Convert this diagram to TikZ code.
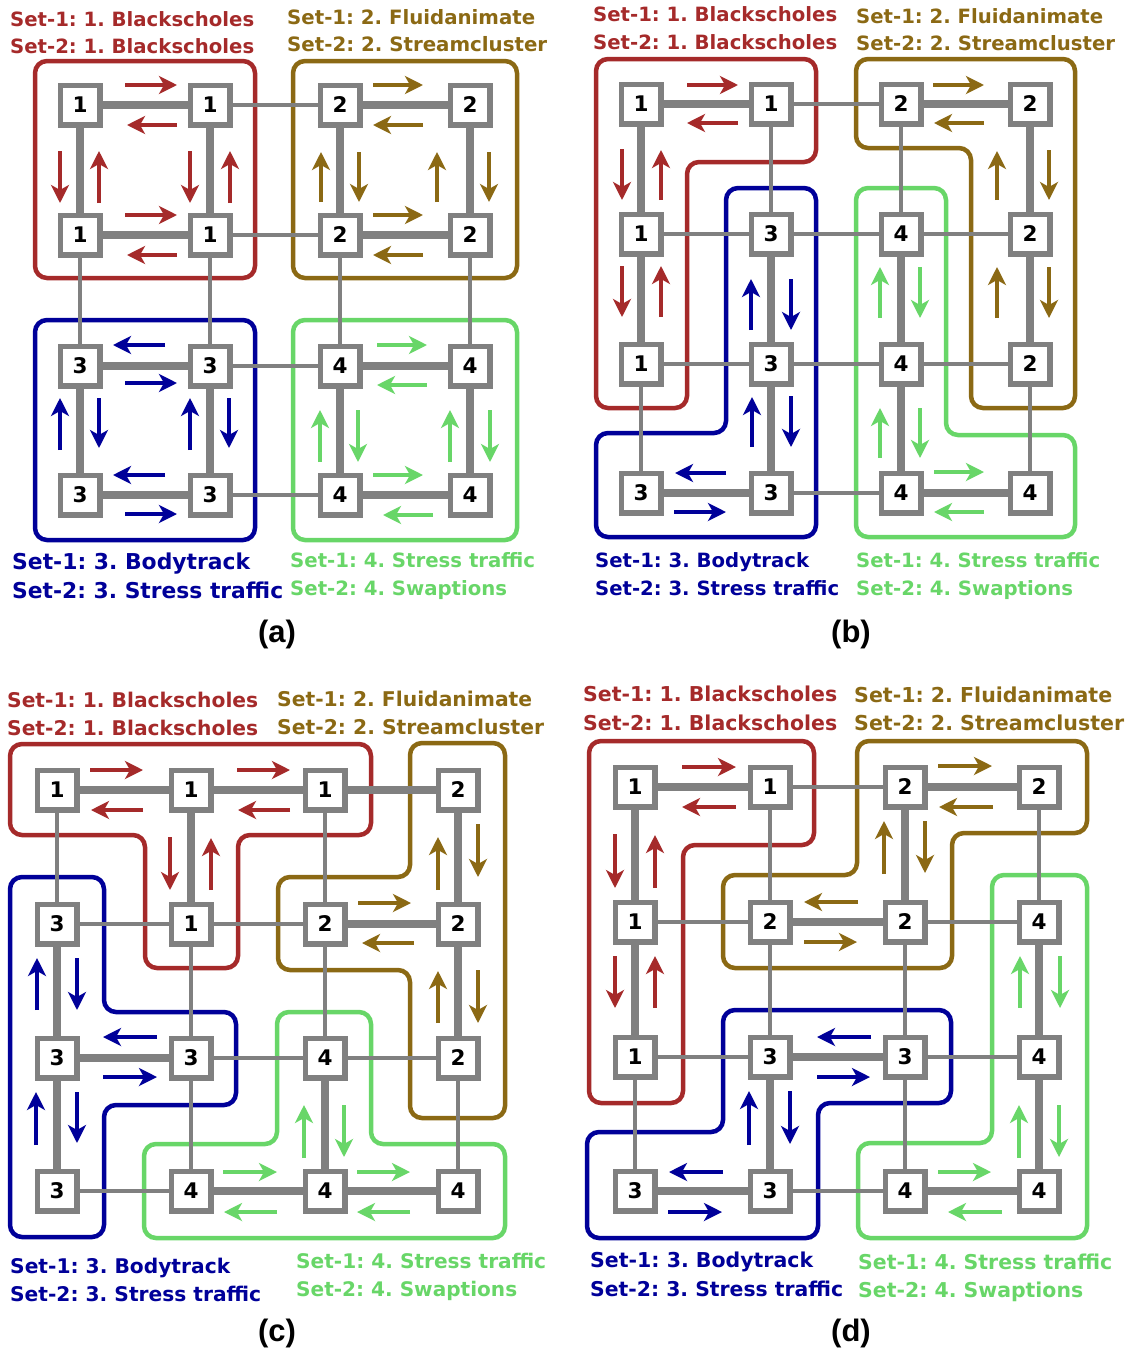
\documentclass[tikz,border=0pt]{standalone}
\usepackage{fontspec}
\setmainfont{DejaVu Sans}
\newfontfamily\capfont{Liberation Sans}
\usetikzlibrary{arrows.meta}
\frenchspacing
\pgfdeclarelayer{edges}
\pgfdeclarelayer{outlines}
\pgfsetlayers{outlines,edges,main}

\definecolor{cred}{RGB}{165,42,42}
\definecolor{cbrown}{RGB}{139,105,20}
\definecolor{cblue}{RGB}{0,0,153}
\definecolor{cgreen}{RGB}{104,214,104}
\definecolor{cgray}{RGB}{128,128,128}

\tikzset{
  nd/.style={draw=cgray, fill=white, line width=5.5pt, minimum size=39.5pt,
    inner sep=0pt, font=\bfseries\fontsize{21.5}{21.5}\selectfont},
  thinedge/.style={draw=cgray, line width=4pt},
  thickedge/.style={draw=cgray, line width=7.5pt},
  grp/.style={line width=4.5pt, rounded corners=12pt},
  flow/.style={line width=3.2pt, -{Stealth[length=18pt,width=18pt,inset=5pt]}},
  lbl/.style={anchor=base west, inner sep=0pt, font=\bfseries\fontsize{20}{24}\selectfont},
  subcap/.style={anchor=base, inner sep=0pt, font=\capfont\bfseries\fontsize{31}{31}\selectfont},
}

% 4x4 mesh of cores: prefix, column x list, row y list, labels row by row
\newcommand\gridpanel[4]{%
  \foreach \lab [count=\k from 0] in {#4} {
    \pgfmathtruncatemacro\ci{mod(\k,4)}
    \pgfmathtruncatemacro\ri{div(\k,4)}
    \pgfmathsetmacro\xx{{#2}[\ci]}
    \pgfmathsetmacro\yy{{#3}[\ri]}
    \node[nd] (#1\ci\ri) at (\xx,\yy) {\lab};
  }
  \begin{pgfonlayer}{edges}
    \foreach \i in {0,1,2,3} \foreach \j/\jj in {0/1,1/2,2/3} {
      \draw[thinedge] (#1\j\i) -- (#1\jj\i);
      \draw[thinedge] (#1\i\j) -- (#1\i\jj);
    }
  \end{pgfonlayer}
}
\newcommand\thicklinks[1]{%
  \begin{pgfonlayer}{edges}
    \foreach \p/\q in {#1} \draw[thickedge] (\p) -- (\q);
  \end{pgfonlayer}
}
% horizontal flow arrow: colour, y, x from, x to
\newcommand\harr[4]{\draw[flow,#1] (#3,#2) -- (#4,#2);}
% vertical flow arrow: colour, x, y from, y to
\newcommand\varr[4]{\draw[flow,#1] (#2,#3) -- (#2,#4);}
% application label: name, colour, x, baseline y, width, text
\newcommand\setlbl[6]{\node[lbl,text=#2] (#1) at (#3,#4) {\resizebox{#5pt}{!}{#6}};}

\begin{document}
\begin{tikzpicture}[x=1pt,y=-1pt]
\useasboundingbox (0,0) rectangle (1128,1350);

% ---------------- (a) ----------------
\gridpanel{a}{80,210,340,470}{105,235,366,495}{1,1,2,2, 1,1,2,2, 3,3,4,4, 3,3,4,4}
\thicklinks{a00/a10,a01/a11,a00/a01,a10/a11, a20/a30,a21/a31,a20/a21,a30/a31,
  a02/a12,a03/a13,a02/a03,a12/a13, a22/a32,a23/a33,a22/a23,a32/a33}
\begin{pgfonlayer}{outlines}
  \draw[grp,cred] (35,61) rectangle (255,278);
  \draw[grp,cbrown] (293,61) rectangle (517,278);
  \draw[grp,cblue] (35,320) rectangle (255,540);
  \draw[grp,cgreen] (293,320) rectangle (517,540);
\end{pgfonlayer}
\harr{cred}{85}{125}{177}   \harr{cred}{125}{177}{127}
\harr{cred}{215}{125}{177}  \harr{cred}{255}{177}{127}
\varr{cred}{60}{151}{203}   \varr{cred}{99}{203}{151}
\varr{cred}{190}{151}{203}  \varr{cred}{230}{203}{151}
\harr{cbrown}{85}{373}{423}  \harr{cbrown}{125}{423}{373}
\harr{cbrown}{215}{373}{423} \harr{cbrown}{255}{423}{373}
\varr{cbrown}{321}{202}{152} \varr{cbrown}{359}{152}{202}
\varr{cbrown}{437}{202}{152} \varr{cbrown}{489}{152}{202}
\harr{cblue}{345}{165}{113}  \harr{cblue}{383}{125}{177}
\harr{cblue}{475}{165}{113}  \harr{cblue}{514}{125}{177}
\varr{cblue}{60}{450}{398}   \varr{cblue}{99}{398}{448}
\varr{cblue}{190}{450}{398}  \varr{cblue}{229}{398}{448}
\harr{cgreen}{345}{377}{427} \harr{cgreen}{385}{427}{377}
\harr{cgreen}{475}{373}{423} \harr{cgreen}{515}{433}{383}
\varr{cgreen}{320}{462}{410} \varr{cgreen}{358}{410}{462}
\varr{cgreen}{450}{462}{410} \varr{cgreen}{490}{410}{462}
\setlbl{aR1}{cred}{10}{26}{244}{Set-1: 1. Blackscholes}
\setlbl{aR2}{cred}{10}{53}{244}{Set-2: 1. Blackscholes}
\setlbl{aB1}{cbrown}{287}{24}{248}{Set-1: 2. Fluidanimate}
\setlbl{aB2}{cbrown}{287}{51.5}{260}{Set-2: 2. Streamcluster}
\setlbl{aN1}{cblue}{12}{569}{238}{Set-1: 3. Bodytrack}
\setlbl{aN2}{cblue}{12}{598}{271}{Set-2: 3. Stress traffic}
\setlbl{aG1}{cgreen}{290}{567}{245}{Set-1: 4. Stress traffic}
\setlbl{aG2}{cgreen}{290}{595}{217}{Set-2: 4. Swaptions}
\node[subcap] (capa) at (277,642) {(a)};

% ---------------- (b) ----------------
\gridpanel{b}{641,771,901,1030}{104,234,364,493}{1,1,2,2, 1,3,4,2, 1,3,4,2, 3,3,4,4}
\thicklinks{b00/b10,b20/b30,b00/b01,b01/b02,b11/b12,b12/b13,b21/b22,b22/b23,
  b30/b31,b31/b32,b03/b13,b23/b33}
\begin{pgfonlayer}{outlines}
  \draw[grp,cred] (596,59) -- (816,59) -- (816,162) -- (687,162) -- (687,408) -- (596,408) -- cycle;
  \draw[grp,cbrown] (856,59) -- (1075,59) -- (1075,408) -- (971,408) -- (971,148) -- (856,148) -- cycle;
  \draw[grp,cblue] (726,188) -- (816,188) -- (816,537) -- (596,537) -- (596,433) -- (726,433) -- cycle;
  \draw[grp,cgreen] (856,188) -- (946,188) -- (946,435) -- (1075,435) -- (1075,537) -- (856,537) -- cycle;
\end{pgfonlayer}
\harr{cred}{85}{687}{738}    \harr{cred}{123}{738}{687}
\varr{cred}{622}{149}{200}   \varr{cred}{661}{200}{150}
\varr{cred}{622}{266}{317}   \varr{cred}{661}{317}{266}
\harr{cbrown}{85}{933}{984}  \harr{cbrown}{123}{984}{934}
\varr{cbrown}{997}{200}{151} \varr{cbrown}{1049}{150}{200}
\varr{cbrown}{997}{318}{267} \varr{cbrown}{1049}{267}{318}
\varr{cblue}{751}{330}{279}  \varr{cblue}{791}{279}{330}
\varr{cblue}{752}{447}{397}  \varr{cblue}{791}{396}{447}
\harr{cblue}{473}{726}{675}  \harr{cblue}{512}{674}{726}
\varr{cgreen}{880}{318}{267} \varr{cgreen}{920}{267}{318}
\varr{cgreen}{880}{458}{408} \varr{cgreen}{920}{408}{458}
\harr{cgreen}{472}{934}{984} \harr{cgreen}{512}{984}{934}
\setlbl{bR1}{cred}{593}{21.7}{244}{Set-1: 1. Blackscholes}
\setlbl{bR2}{cred}{593}{49}{244}{Set-2: 1. Blackscholes}
\setlbl{bB1}{cbrown}{856}{23.3}{247}{Set-1: 2. Fluidanimate}
\setlbl{bB2}{cbrown}{856}{50.7}{259}{Set-2: 2. Streamcluster}
\setlbl{bN1}{cblue}{595}{567.7}{214}{Set-1: 3. Bodytrack}
\setlbl{bN2}{cblue}{595}{595}{244}{Set-2: 3. Stress traffic}
\setlbl{bG1}{cgreen}{856}{567}{244}{Set-1: 4. Stress traffic}
\setlbl{bG2}{cgreen}{856}{595}{217}{Set-2: 4. Swaptions}
\node[subcap] (capb) at (851,642) {(b)};

% ---------------- (c) ----------------
\gridpanel{c}{57,191,325,458}{790,924,1058,1191}{1,1,1,2, 3,1,2,2, 3,3,4,2, 3,4,4,4}
\thicklinks{c00/c10,c10/c20,c20/c30,c01/c02,c02/c03,c10/c11,c22/c23,c30/c31,
  c31/c32,c21/c31,c02/c12,c13/c23,c23/c33}
\begin{pgfonlayer}{outlines}
  \draw[grp,cred] (10,744) -- (371,744) -- (371,835) -- (238,835) -- (238,968) -- (145,968) -- (145,835) -- (10,835) -- cycle;
  \draw[grp,cbrown] (410,743) -- (505,743) -- (505,1118) -- (410,1118) -- (410,970) -- (278,970) -- (278,877) -- (410,877) -- cycle;
  \draw[grp,cblue] (10,877) -- (104,877) -- (104,1012) -- (236,1012) -- (236,1105) -- (104,1105) -- (104,1237) -- (10,1237) -- cycle;
  \draw[grp,cgreen] (277,1012) -- (371,1012) -- (371,1144) -- (505,1144) -- (505,1238) -- (144,1238) -- (144,1144) -- (277,1144) -- cycle;
\end{pgfonlayer}
\harr{cred}{770}{90}{143}    \harr{cred}{810}{143}{91}
\harr{cred}{770}{237}{290}   \harr{cred}{810}{290}{238}
\varr{cred}{170}{837}{890}   \varr{cred}{211}{890}{838}
\varr{cbrown}{438}{890}{837} \varr{cbrown}{478}{824}{877}
\harr{cbrown}{903}{358}{411} \harr{cbrown}{943}{414}{362}
\varr{cbrown}{438}{1023}{971} \varr{cbrown}{478}{970}{1023}
\varr{cblue}{37}{1010}{958}  \varr{cblue}{77}{958}{1010}
\harr{cblue}{1037}{157}{103} \harr{cblue}{1077}{103}{157}
\varr{cblue}{36}{1145}{1092} \varr{cblue}{77}{1092}{1143}
\varr{cgreen}{304}{1158}{1105} \varr{cgreen}{344}{1105}{1157}
\harr{cgreen}{1172}{223}{277}  \harr{cgreen}{1212}{277}{224}
\harr{cgreen}{1172}{357}{410}  \harr{cgreen}{1212}{410}{357}
\setlbl{cR1}{cred}{7}{707.7}{251}{Set-1: 1. Blackscholes}
\setlbl{cR2}{cred}{7}{735}{251}{Set-2: 1. Blackscholes}
\setlbl{cB1}{cbrown}{277}{706}{255}{Set-1: 2. Fluidanimate}
\setlbl{cB2}{cbrown}{277}{734.3}{267}{Set-2: 2. Streamcluster}
\setlbl{cN1}{cblue}{10}{1273}{220}{Set-1: 3. Bodytrack}
\setlbl{cN2}{cblue}{10}{1301.7}{251}{Set-2: 3. Stress traffic}
\setlbl{cG1}{cgreen}{296}{1268}{250}{Set-1: 4. Stress traffic}
\setlbl{cG2}{cgreen}{296}{1296.7}{221}{Set-2: 4. Swaptions}
\node[subcap] (capc) at (277,1341) {(c)};

% ---------------- (d) ----------------
\gridpanel{d}{635,770,905,1039}{787,922,1057,1191}{1,1,2,2, 1,2,2,4, 1,3,3,4, 3,3,4,4}
\thicklinks{d00/d10,d20/d30,d11/d21,d12/d22,d03/d13,d23/d33,d00/d01,d01/d02,
  d12/d13,d20/d21,d31/d32,d32/d33}
\begin{pgfonlayer}{outlines}
  \draw[grp,cred] (589,741) -- (814,741) -- (814,845) -- (683,845) -- (683,1103) -- (589,1103) -- cycle;
  \draw[grp,cbrown] (857,741) -- (1087,741) -- (1087,833) -- (952,833) -- (952,968) -- (723,968) -- (723,875) -- (857,875) -- cycle;
  \draw[grp,cblue] (723,1010) -- (951,1010) -- (951,1103) -- (818,1103) -- (818,1238) -- (587,1238) -- (587,1132) -- (723,1132) -- cycle;
  \draw[grp,cgreen] (992,875) -- (1087,875) -- (1087,1238) -- (858,1238) -- (858,1143) -- (992,1143) -- cycle;
\end{pgfonlayer}
\harr{cred}{767}{682}{736}    \harr{cred}{807}{736}{682}
\varr{cred}{615}{834}{888}    \varr{cred}{655}{888}{835}
\varr{cred}{615}{956}{1008}   \varr{cred}{655}{1008}{956}
\harr{cbrown}{766}{938}{992}  \harr{cbrown}{807}{993}{939}
\varr{cbrown}{884}{874}{821}  \varr{cbrown}{925}{821}{873}
\harr{cbrown}{902}{858}{804}  \harr{cbrown}{942}{804}{857}
\harr{cblue}{1037}{871}{817}  \harr{cblue}{1077}{817}{870}
\varr{cblue}{749}{1145}{1091} \varr{cblue}{790}{1091}{1144}
\harr{cblue}{1172}{723}{669}  \harr{cblue}{1212}{668}{722}
\varr{cgreen}{1020}{1008}{956} \varr{cgreen}{1060}{956}{1008}
\varr{cgreen}{1019}{1158}{1105} \varr{cgreen}{1059}{1105}{1157}
\harr{cgreen}{1172}{938}{991}  \harr{cgreen}{1212}{1002}{948}
\setlbl{dR1}{cred}{583}{701.7}{254}{Set-1: 1. Blackscholes}
\setlbl{dR2}{cred}{583}{730}{254}{Set-2: 1. Blackscholes}
\setlbl{dB1}{cbrown}{854}{702.7}{258}{Set-1: 2. Fluidanimate}
\setlbl{dB2}{cbrown}{854}{730.7}{270}{Set-2: 2. Streamcluster}
\setlbl{dN1}{cblue}{590}{1267.7}{223}{Set-1: 3. Bodytrack}
\setlbl{dN2}{cblue}{590}{1296}{253}{Set-2: 3. Stress traffic}
\setlbl{dG1}{cgreen}{858}{1269.3}{254}{Set-1: 4. Stress traffic}
\setlbl{dG2}{cgreen}{858}{1297.3}{225}{Set-2: 4. Swaptions}
\node[subcap] (capd) at (851,1341) {(d)};
\end{tikzpicture}
\end{document}
